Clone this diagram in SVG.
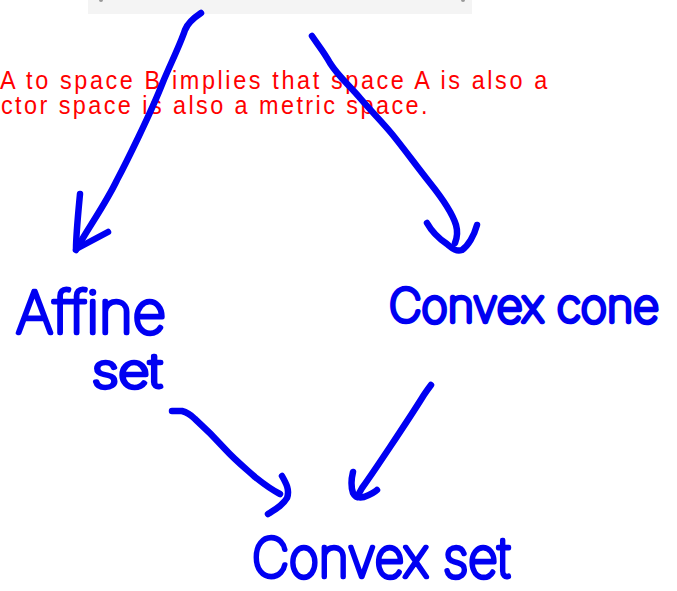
<svg xmlns="http://www.w3.org/2000/svg" width="677" height="591" viewBox="0 0 677 591">
<style>
.ink{fill:none;stroke:#0000f2;stroke-width:6.5;stroke-linecap:round;stroke-linejoin:round}
.hand{fill:#0000f2;stroke:#0000f2;stroke-width:4.5;stroke-linejoin:round;stroke-linecap:round;font-family:Inter,Roboto,"DejaVu Sans",sans-serif;font-weight:100}
.note{fill:#ff0000;font-family:"Liberation Sans",Arial,sans-serif;font-size:26px}
</style>
<rect width="677" height="591" fill="#ffffff"/>
<g id="top-smear">
<rect x="88" y="0" width="384" height="14" fill="#f4f4f4"/>
<circle cx="101" cy="0" r="2" fill="#999"/>
<circle cx="463" cy="0" r="2" fill="#999"/>
</g>
<g id="note" transform="scale(0.9 1)">
<text class="note" x="0" y="89" textLength="608" lengthAdjust="spacing">A to space B implies that space A is also a</text>
<text class="note" x="1" y="114" textLength="474" lengthAdjust="spacing">ctor space is also a metric space.</text>
</g>
<g id="connectors">
<path class="ink" d="M201,13 C195,17 188,22 185,30 C180,45 170,65 163,82 C150,115 125,165 117,180 C105,205 88,228 76,250"/>
<path class="ink" d="M80,194 C78,215 76,235 76,249 L108,232"/>
<path class="ink" d="M312,36 C318,45 324,52 330,63 C338,76 350,86 360,98 C372,112 382,122 392,134 C405,150 418,168 430,183 C442,198 452,212 456,225 C458,232 457,238 455,243"/>
<path class="ink" d="M427,223 C432,232 438,238 447,244 C452,248 456,252 462,250 C468,246 474,236 477,225"/>
<path class="ink" d="M172,411 L182,411 C186,412 190,414 195,419 C205,428 215,438 225,449 C235,460 245,468 255,477 C265,485 272,490 280,494"/>
<path class="ink" d="M282,476 C286,483 290,490 287,498 C283,505 276,509 268,514"/>
<path class="ink" d="M431,385 C428,389 425,393 422,398 C412,414 400,432 390,447 C380,462 370,477 362,488 L357,497"/>
<path class="ink" d="M353,472 C351,480 351,487 353,493 C355,497 359,498 364,497 C369,495 374,493 377,490"/>
</g>
<g id="node-affine-set">
<text class="hand" x="16" y="333" font-size="58" textLength="150" lengthAdjust="spacingAndGlyphs">Affine</text>
<text class="hand" x="92" y="387" font-size="46" textLength="70" lengthAdjust="spacingAndGlyphs">set</text>
</g>
<g id="node-convex-cone">
<text class="hand" x="389" y="322" font-size="46" textLength="270" lengthAdjust="spacingAndGlyphs">Convex cone</text>
</g>
<g id="node-convex-set">
<text class="hand" x="252" y="577" font-size="54" textLength="258" lengthAdjust="spacingAndGlyphs">Convex set</text>
</g>
</svg>
